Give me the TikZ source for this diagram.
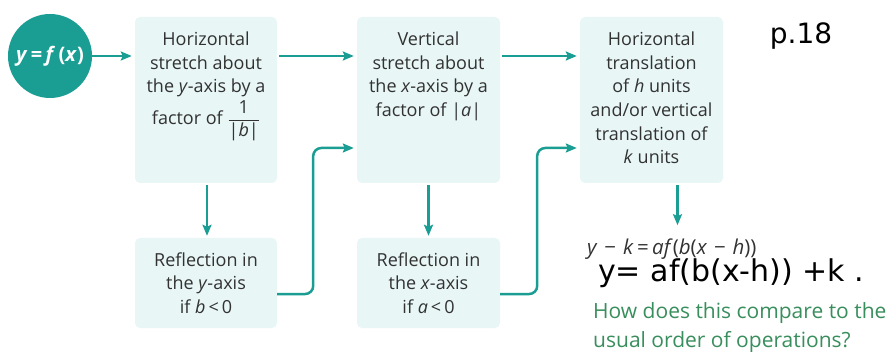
\documentclass[tikz,border=0pt]{standalone}
\usepackage{fontspec}
\setmainfont{Open Sans}
\newfontfamily\handfont{DejaVu Sans}
\usetikzlibrary{arrows.meta,calc}
\definecolor{teal1}{RGB}{26,158,148}
\definecolor{boxfill}{RGB}{232,246,246}
\definecolor{txtgrey}{RGB}{50,50,50}
\definecolor{qgreen}{RGB}{56,142,92}
\begin{document}
\begin{tikzpicture}[x=1pt,y=-1pt,
  box/.style={fill=boxfill, rounded corners=5pt, draw=none, inner sep=0pt},
  txt/.style={text=txtgrey, align=center, inner sep=0pt, font=\fontsize{18}{23.6}\selectfont},
  conn/.style={draw=teal1, line width=2.5pt, rounded corners=8pt, -{Stealth[length=11pt,width=9pt,inset=2pt]}},
]
\useasboundingbox (0,0) rectangle (890,352);
% circle
\node[circle, fill=teal1, minimum size=84pt, inner sep=0pt, text=white,
  font=\bfseries\fontsize{20}{22}\selectfont] (c0) at (50,56) {\textit{y}\,=\,\textit{f}\,(\textit{x})};
% upper boxes
\node[box, minimum width=142pt, minimum height=166pt] (b1) at (206,100) {};
\node[box, minimum width=143pt, minimum height=166pt] (b2) at (428.5,100) {};
\node[box, minimum width=143pt, minimum height=166pt] (b3) at (651.5,100) {};
\node[txt, anchor=north] (t1) at ($(b1.north)+(0,15)$) {Horizontal\\stretch about\\the \textit{y}-axis by a\\[2pt] factor of $\displaystyle\frac{\mbox{1}}{\mbox{|\textit{b}|}}$};
\node[txt, anchor=north] (t2) at ($(b2.north)+(0,15)$) {Vertical\\stretch about\\the \textit{x}-axis by a\\factor of |\textit{a}|};
\node[txt, anchor=north] (t3) at ($(b3.north)+(0,15)$) {Horizontal\\translation\\of \textit{h} units\\and/or vertical\\translation of\\\textit{k} units};
% lower boxes
\node[box, txt, minimum width=142pt, minimum height=90pt] (r1) at (206,283) {Reflection in\\the \textit{y}-axis\\if \textit{b}\,<\,0};
\node[box, txt, minimum width=143pt, minimum height=90pt] (r2) at (428.5,283) {Reflection in\\the \textit{x}-axis\\if \textit{a}\,<\,0};
% equation and notes
\node[anchor=west, inner sep=0pt, text=txtgrey, font=\fontsize{20.5}{22}\selectfont] (eq) at (587,249) {\textit{y}\,\,−\,\,\textit{k}\,=\,\textit{af}(\textit{b}(\textit{x}\,\,−\,\,\textit{h}))};
\node[anchor=west, inner sep=0pt, font=\handfont\fontsize{30}{32}\selectfont] (hw) at (598,273) {y= af(b(x-h)) +k .};
\node[anchor=north west, inner sep=0pt, align=left, text=qgreen, font=\fontsize{21}{29}\selectfont] (q) at (593,302) {How does this compare to the\\usual order of operations?};
\node[inner sep=0pt, font=\handfont\fontsize{28}{30}\selectfont] (p18) at (801,36) {p.18};
% connectors
\coordinate (e0) at (c0.east);
\draw[conn, shorten >=3pt] (e0) -- (e0 -| b1.west);
\draw[conn, shorten <=2pt, shorten >=3pt] (b1.east |- e0) -- (b2.west |- e0);
\draw[conn, shorten <=2pt, shorten >=3pt] (b2.east |- e0) -- (b3.west |- e0);
\draw[conn, shorten <=2pt, shorten >=2pt] ($(b1.south)+(1,0)$) -- ($(r1.north)+(1,0)$);
\draw[conn, shorten <=2pt, shorten >=2pt] (b2.south) -- (r2.north);
\draw[conn, shorten <=2pt, shorten >=3pt] ($(b3.south)+(26,0)$) -- ($(b3.south)+(26,45)$) coordinate (eqtop);
\coordinate (u1) at ($(r1.east)+(0,11)$);
\coordinate (v1) at ($(b2.west)+(0,48)$);
\draw[conn, shorten >=3pt] (u1) -- ($(u1)+(36,0)$) |- (v1);
\coordinate (u2) at ($(r2.east)+(0,11)$);
\coordinate (v2) at ($(b3.west)+(0,48)$);
\draw[conn, shorten >=3pt] (u2) -- ($(u2)+(37,0)$) |- (v2);
\end{tikzpicture}
\end{document}
